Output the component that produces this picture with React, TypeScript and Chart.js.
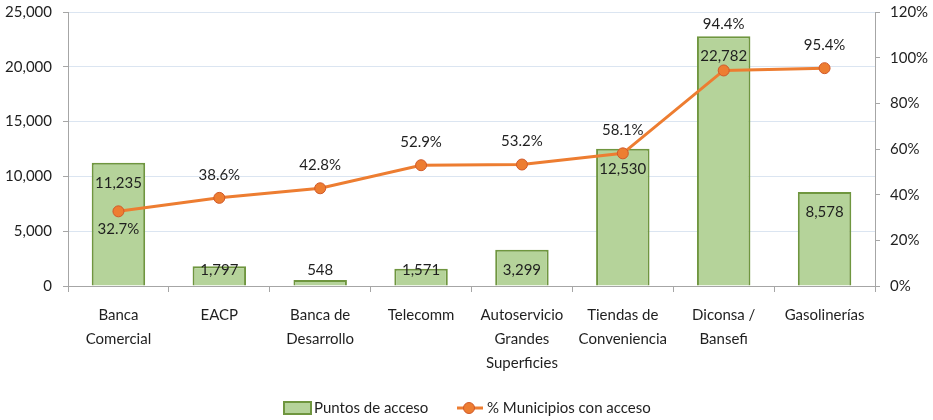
import React, { useEffect, useRef } from "react";
import { Chart, registerables } from "chart.js";

Chart.register(...registerables);

const categories: string[][] = [
  ["Banca", "Comercial"],
  ["EACP"],
  ["Banca de", "Desarrollo"],
  ["Telecomm"],
  ["Autoservicio", "Grandes", "Superficies"],
  ["Tiendas de", "Conveniencia"],
  ["Diconsa /", "Bansefi"],
  ["Gasolinerías"],
];
const puntosDeAcceso: number[] = [11235, 1797, 548, 1571, 3299, 12530, 22782, 8578];
const pctMunicipios: number[] = [32.7, 38.6, 42.8, 52.9, 53.2, 58.1, 94.4, 95.4];
const leftTicks: number[] = [0, 5000, 10000, 15000, 20000, 25000];
const rightTicks: number[] = [0, 20, 40, 60, 80, 100, 120];

const FONT = "Lato, 'Open Sans', sans-serif";
const TEXT = "#1f1f1f";
const BAR_FILL = "#b5d39a";
const BAR_BORDER = "#6f963f";
const LINE = "#ed7d31";
const POINT_BORDER = "#d0592a";
const AXIS = "#a6a6a6";
const GRID = "#dbe5f1";

const fmt = (v: number) => v.toLocaleString("en-US");

const labelPlugin = {
  id: "customLabels",
  afterDatasetsDraw(chart: any) {
    const ctx = chart.ctx;
    ctx.save();
    ctx.font = `15px ${FONT}`;
    ctx.fillStyle = TEXT;
    ctx.textAlign = "center";
    ctx.textBaseline = "middle";
    const barMeta = chart.getDatasetMeta(0);
    const yScale = chart.scales.y;
    const zeroY = yScale.getPixelForValue(0);
    barMeta.data.forEach((bar: any, i: number) => {
      const y = Math.min(bar.y + 20, zeroY - 16);
      ctx.fillText(fmt(puntosDeAcceso[i]), bar.x, y);
    });
    const lineMeta = chart.getDatasetMeta(1);
    lineMeta.data.forEach((pt: any, i: number) => {
      let dy = -23;
      if (i === 0) dy = 18;
      if (i === 6) dy = -46;
      ctx.fillText(pctMunicipios[i].toFixed(1) + "%", pt.x, pt.y + dy);
    });
    ctx.restore();
  },
  afterDraw(chart: any) {
    const ctx = chart.ctx;
    ctx.save();
    const ly = 408;
    ctx.fillStyle = BAR_FILL;
    ctx.strokeStyle = BAR_BORDER;
    ctx.lineWidth = 2;
    ctx.fillRect(284, 402, 27, 12);
    ctx.strokeRect(284, 402, 27, 12);
    ctx.font = `15px ${FONT}`;
    ctx.fillStyle = TEXT;
    ctx.textAlign = "left";
    ctx.textBaseline = "middle";
    ctx.fillText("Puntos de acceso", 314, ly);
    ctx.strokeStyle = LINE;
    ctx.lineWidth = 3;
    ctx.beginPath();
    ctx.moveTo(457, ly);
    ctx.lineTo(483, ly);
    ctx.stroke();
    ctx.beginPath();
    ctx.arc(469, ly, 5.5, 0, Math.PI * 2);
    ctx.fillStyle = LINE;
    ctx.fill();
    ctx.lineWidth = 1;
    ctx.strokeStyle = POINT_BORDER;
    ctx.stroke();
    ctx.fillStyle = TEXT;
    ctx.fillText("% Municipios con acceso", 487, ly);
    ctx.restore();
  },
};

export default function App() {
  const ref = useRef<HTMLCanvasElement | null>(null);
  useEffect(() => {
    if (!ref.current) return;
    const chart = new Chart(ref.current, {
      data: {
        labels: categories,
        datasets: [
          {
            type: "bar",
            label: "Puntos de acceso",
            data: puntosDeAcceso,
            backgroundColor: BAR_FILL,
            borderColor: BAR_BORDER,
            borderWidth: 2,
            barPercentage: 0.53,
            categoryPercentage: 1,
            yAxisID: "y",
            order: 2,
          },
          {
            type: "line",
            label: "% Municipios con acceso",
            data: pctMunicipios,
            borderColor: LINE,
            borderWidth: 3,
            backgroundColor: LINE,
            pointBackgroundColor: LINE,
            pointBorderColor: POINT_BORDER,
            pointBorderWidth: 1,
            pointRadius: 5.5,
            tension: 0,
            yAxisID: "y1",
            order: 1,
          },
        ],
      } as any,
      options: {
        responsive: false,
        animation: false,
        layout: { padding: { top: 12, left: 0, right: 0, bottom: 0 } },
        plugins: { legend: { display: false }, tooltip: { enabled: false } },
        scales: {
          x: {
            type: "category",
            offset: true,
            grid: {
              offset: true,
              drawOnChartArea: false,
              drawTicks: true,
              tickLength: 6,
              tickColor: AXIS,
            },
            border: { color: AXIS, width: 1 },
            ticks: {
              color: TEXT,
              font: { family: FONT, size: 15, lineHeight: 1.6 },
              padding: 11,
              maxRotation: 0,
              autoSkip: false,
            },
            afterFit(scale: any) {
              scale.height = 134;
            },
          },
          y: {
            position: "left",
            min: 0,
            max: 25000,
            afterBuildTicks(scale: any) {
              scale.ticks = leftTicks.map((v) => ({ value: v }));
            },
            grid: { color: GRID, tickColor: AXIS, tickLength: 5, lineWidth: 1 },
            border: { color: AXIS, width: 1 },
            ticks: {
              color: TEXT,
              font: { family: FONT, size: 15 },
              padding: 11,
              callback: (v: any) => fmt(Number(v)),
            },
            afterFit(scale: any) {
              scale.width = 68;
              scale.paddingTop = 0;
              scale.paddingBottom = 0;
            },
          },
          y1: {
            position: "right",
            min: 0,
            max: 120,
            afterBuildTicks(scale: any) {
              scale.ticks = rightTicks.map((v) => ({ value: v }));
            },
            grid: { drawOnChartArea: false, tickColor: AXIS, tickLength: 5 },
            border: { color: AXIS, width: 1 },
            ticks: {
              color: TEXT,
              font: { family: FONT, size: 15 },
              padding: 10,
              callback: (v: any) => v + "%",
            },
            afterFit(scale: any) {
              scale.width = 58;
              scale.paddingTop = 0;
              scale.paddingBottom = 0;
            },
          },
        },
      } as any,
      plugins: [labelPlugin],
    });
    return () => chart.destroy();
  }, []);
  return (
    <div style={{ position: "absolute", left: 0, top: 0, width: 933, height: 420, background: "#fff" }}>
      <canvas ref={ref} width={933} height={420} />
    </div>
  );
}
